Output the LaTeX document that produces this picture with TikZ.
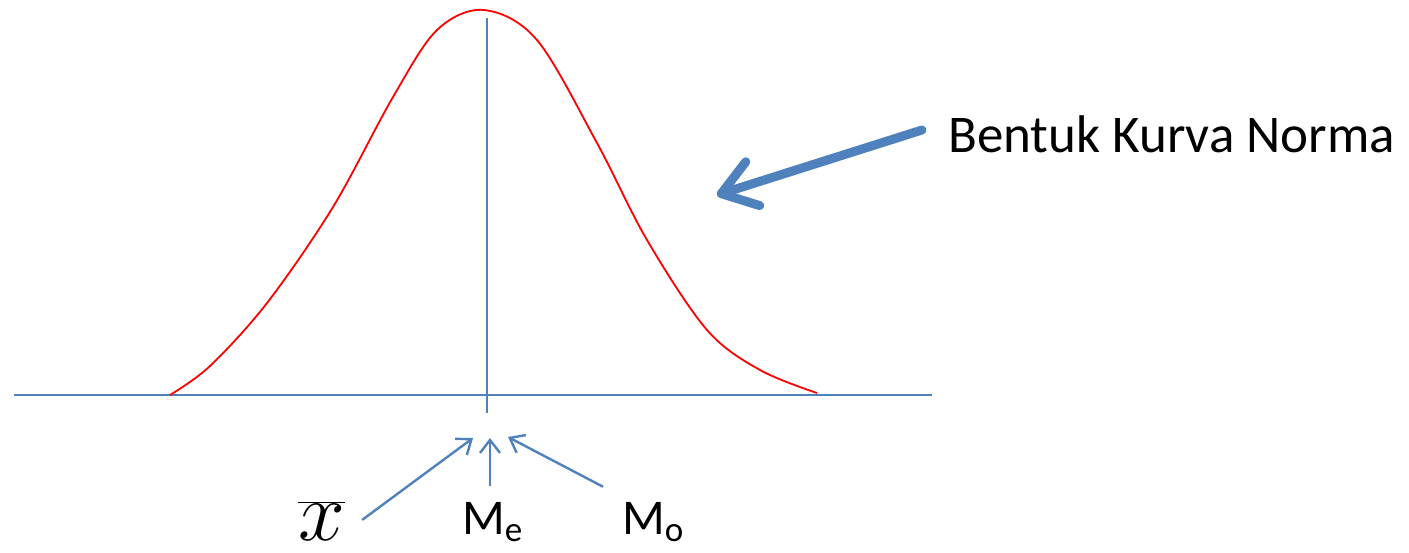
\documentclass[tikz,border=0pt]{standalone}
\usepackage{fix-cm}
\usepackage{fontspec}
\setmainfont{Carlito}
\usepackage{xcolor}
\usepackage{tikz}
\usetikzlibrary{arrows.meta,positioning}
\definecolor{axisblue}{HTML}{4F81BD}
\definecolor{curvered}{HTML}{FF0000}

\begin{document}
\begin{tikzpicture}[
 x=1pt,y=-1pt,
 axis/.style={draw=axisblue,line width=1.6pt},
 curve/.style={draw=curvered,line width=1.8pt},
 pointer/.style={draw=axisblue,line width=2.4pt,-{Straight Barb[length=13pt,width=20pt]}},
 bigpointer/.style={draw=axisblue,line width=9pt,line cap=round,-{Straight Barb[length=33pt,width=46pt,round]}},
 lbl/.style={inner sep=0pt,font=\fontsize{50}{50}\selectfont},
 title/.style={inner sep=0pt,font=\fontsize{53}{53}\selectfont},
 meanlbl/.style={inner sep=0pt,font=\fontsize{84}{84}\selectfont},
]
\useasboundingbox (0,0) rectangle (1409,552);
% axes
\coordinate (ax0) at (14,395);
\coordinate (ax1) at (932,395);
\coordinate (top) at (487,18);
\coordinate (bot) at (487,413);
\draw[axis] (ax0) -- (ax1);
\draw[axis] (top) -- (bot);
% normal curve
\draw[curve] plot[smooth,tension=0.55] coordinates {
 (170,395) (210,366) (267,303) (333,207) (393,97) (437,30) (484,10)
 (537,40) (597,143) (647,240) (707,330) (760,370) (817,393)};
% title and big arrow
\node[title,anchor=base west] (name) at (948,152) {Bentuk Kurva Norma};
\coordinate (tail) at (922,130);
\coordinate (head) at (717,195);
\draw[bigpointer] (tail) -- (head);
% labels below the axis
\node[meanlbl,anchor=base west] (xbar) at (298,540) {$\overline{x}$};
\node[lbl,anchor=base west] (med) at (462,534) {M\textsubscript{e}};
\node[lbl,anchor=base west] (mod) at (622,534) {M\textsubscript{o}};
\coordinate (xbarend) at (473,438);
\coordinate (medend) at (490,438);
\coordinate (modend) at (508,437);
\draw[pointer] ([shift={(17,-1)}]xbar.east) -- (xbarend);
\draw[pointer] ([shift={(28,-16)}]med.north west) -- (medend);
\draw[pointer] ([shift={(-19,-15)}]mod.north west) -- (modend);
\end{tikzpicture}
\end{document}
